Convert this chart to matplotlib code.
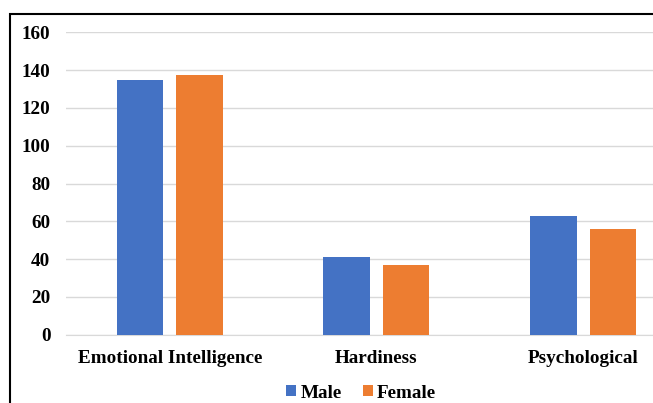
import numpy as np
import matplotlib.pyplot as plt
from matplotlib.patches import Rectangle

# Scores by group
categories = ['Emotional Intelligence', 'Hardiness', 'Psychological']
male = [134.8, 41.3, 62.6]
female = [137.2, 36.7, 55.8]
yticks = [0, 20, 40, 60, 80, 100, 120, 140, 160]

plt.rcParams['font.family'] = ['Liberation Serif', 'DejaVu Serif']
plt.rcParams['font.weight'] = 'bold'

fig = plt.figure(figsize=(6.53, 4.03), dpi=100)
ax = fig.add_axes([66.4 / 653, 1 - 334.7 / 403, 620 / 653, 302.4 / 403])

x = np.arange(len(categories))
w = 0.225
off = 0.144
ax.bar(x - off, male, w, color='#4472C4', label='Male', zorder=3)
ax.bar(x + off, female, w, color='#ED7D31', label='Female', zorder=3)

ax.set_xlim(-0.5, 2.5)
ax.set_ylim(0, 160)
ax.set_yticks(yticks)
ax.set_xticks(x)
ax.set_xticklabels(categories, fontsize=13.8, fontweight='bold')
ax.tick_params(axis='y', labelsize=13.8, length=0, pad=11.5)
ax.tick_params(axis='x', length=0, pad=11)
for t in ax.get_yticklabels():
    t.set_fontweight('bold')

ax.grid(axis='y', color='#D9D9D9', lw=1, zorder=0)
for s in ['top', 'right', 'left']:
    ax.spines[s].set_visible(False)
ax.spines['bottom'].set_color('#D9D9D9')

# chart border
fig.patches.append(Rectangle((9.5 / 653, -0.1), 1.2, 1 - 13.5 / 403 + 0.1,
                             transform=fig.transFigure, fill=False,
                             edgecolor='black', lw=1.5))

fig.legend(loc='center', bbox_to_anchor=(361 / 653, 1 - 393 / 403), ncol=2,
           frameon=False, fontsize=13.8, handlelength=0.55, handleheight=0.55,
           handletextpad=0.2, columnspacing=1.1)

fig.savefig('out.png', dpi=100)
